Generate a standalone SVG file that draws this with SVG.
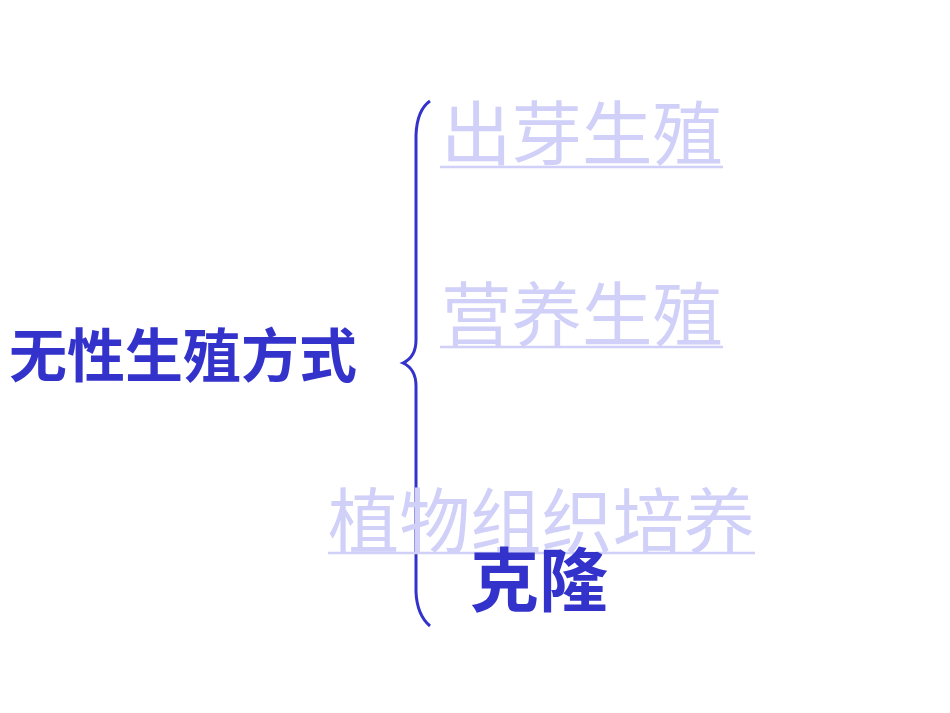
<svg xmlns="http://www.w3.org/2000/svg" width="950" height="713" viewBox="0 0 950 713">
<style>
.dark{fill:#3333cc;font-family:"Noto Sans CJK SC",sans-serif;font-weight:bold}
.light{fill:#d0d0f8;font-family:"Noto Sans CJK SC",sans-serif;font-weight:normal}
.ul{stroke:#d0d0f8;stroke-width:2.5}
</style>
<rect width="950" height="713" fill="#ffffff"/>
<g id="connectors">
<path d="M430,101 Q417,110 416,135 L416,340 Q416,357 403,363 Q416,369 416,386 L416,592 Q417,615 430,626" fill="none" stroke="#3333cc" stroke-width="3"/>
</g>
<g id="root"><text class="dark" x="9" y="377" font-size="58" textLength="348" lengthAdjust="spacingAndGlyphs">无性生殖方式</text></g>
<g id="n1"><text class="light" x="441" y="160" font-size="70" textLength="282" lengthAdjust="spacingAndGlyphs">出芽生殖</text><line class="ul" x1="440" y1="167" x2="723" y2="167"/></g>
<g id="n2"><text class="light" x="441" y="341" font-size="70" textLength="282" lengthAdjust="spacingAndGlyphs">营养生殖</text><line class="ul" x1="440" y1="347" x2="723" y2="347"/></g>
<g id="n3"><text class="light" x="328" y="547" font-size="71" textLength="427" lengthAdjust="spacingAndGlyphs">植物组织培养</text><line class="ul" x1="328" y1="553" x2="755" y2="553"/></g>
<g id="n4"><text class="dark" x="470" y="606" font-size="69" textLength="138" lengthAdjust="spacingAndGlyphs">克隆</text></g>
</svg>
